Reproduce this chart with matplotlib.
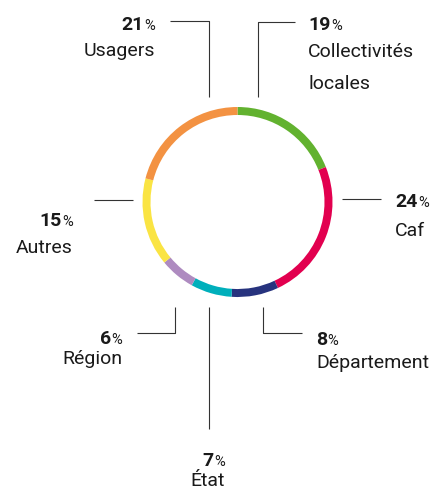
import matplotlib
matplotlib.use("Agg")
import matplotlib.pyplot as plt

# data
labels = ["Collectivités\nlocales", "Caf", "Département", "État", "Région", "Autres", "Usagers"]
values = [19, 24, 8, 7, 6, 15, 21]
colors = ["#62b22f", "#e2004f", "#27337e", "#00afbb", "#ae8bc0", "#fae443", "#f39242"]

plt.rcParams['font.family'] = ['Roboto', 'DejaVu Sans']

W, H = 440, 495
fig = plt.figure(figsize=(W / 100, H / 100), dpi=100)
ax = fig.add_axes([0, 0, 1, 1])

cx, cy, r = 237.5, H - 202, 95
ax.pie(values, colors=colors, startangle=90, counterclock=False,
       center=(cx, cy), radius=r, wedgeprops=dict(width=8, linewidth=0))
ax.set_xlim(0, W)
ax.set_ylim(0, H)
ax.set_aspect('equal')
ax.axis('off')

lc = "#333333"
def line(xs, ys):
    ax.plot(xs, [H - y for y in ys], color=lc, lw=0.8, solid_capstyle='butt')

# leader lines (pixel coords, y from top)
line([170, 209, 209], [21, 21, 97])          # Usagers
line([295, 258, 258], [22, 22, 97])          # Collectivités
line([342, 381], [199, 199])                 # Caf
line([94, 133], [200, 200])                  # Autres
line([137, 175, 175], [333, 333, 307])       # Région
line([209, 209], [307, 429])                 # État
line([302, 263, 263], [333, 333, 307])       # Département

fig.canvas.draw()
renderer = fig.canvas.get_renderer()
inv = ax.transData.inverted()
tc = '#1a1a1a'

def pct(v, x, y, ha):
    y = H - y
    if ha == 'left':
        t = ax.text(x, y, str(v), fontsize=14, fontweight='bold', ha='left', va='baseline', color=tc)
        bb = t.get_window_extent(renderer)
        x2 = inv.transform((bb.x1, 0))[0] + 0.5
        ax.text(x2, y, "%", fontsize=10.5, ha='left', va='baseline', color=tc)
    else:
        t = ax.text(x, y, "%", fontsize=10.5, ha='right', va='baseline', color=tc)
        bb = t.get_window_extent(renderer)
        x2 = inv.transform((bb.x0, 0))[0] - 0.5
        ax.text(x2, y, str(v), fontsize=14, fontweight='bold', ha='right', va='baseline', color=tc)

def name(s, x, ys, ha):
    for part, y in zip(s.split("\n"), ys):
        ax.text(x, H - y, part, fontsize=14, ha=ha, va='baseline', color=tc)

# label positions: (x, pct baseline, name baselines, align)
pos = [(308, 30, [57, 89], 'left'), (395, 207, [236], 'left'), (316, 345, [368], 'left'),
       (225, 466, [486], 'right'), (122, 344, [364], 'right'), (73, 226, [253], 'right'),
       (155, 30, [56], 'right')]
for v, lab, (x, yp, yn, ha) in zip(values, labels, pos):
    pct(v, x, yp, ha)
    name(lab, x, yn, ha)

fig.savefig("out.png", dpi=100)
